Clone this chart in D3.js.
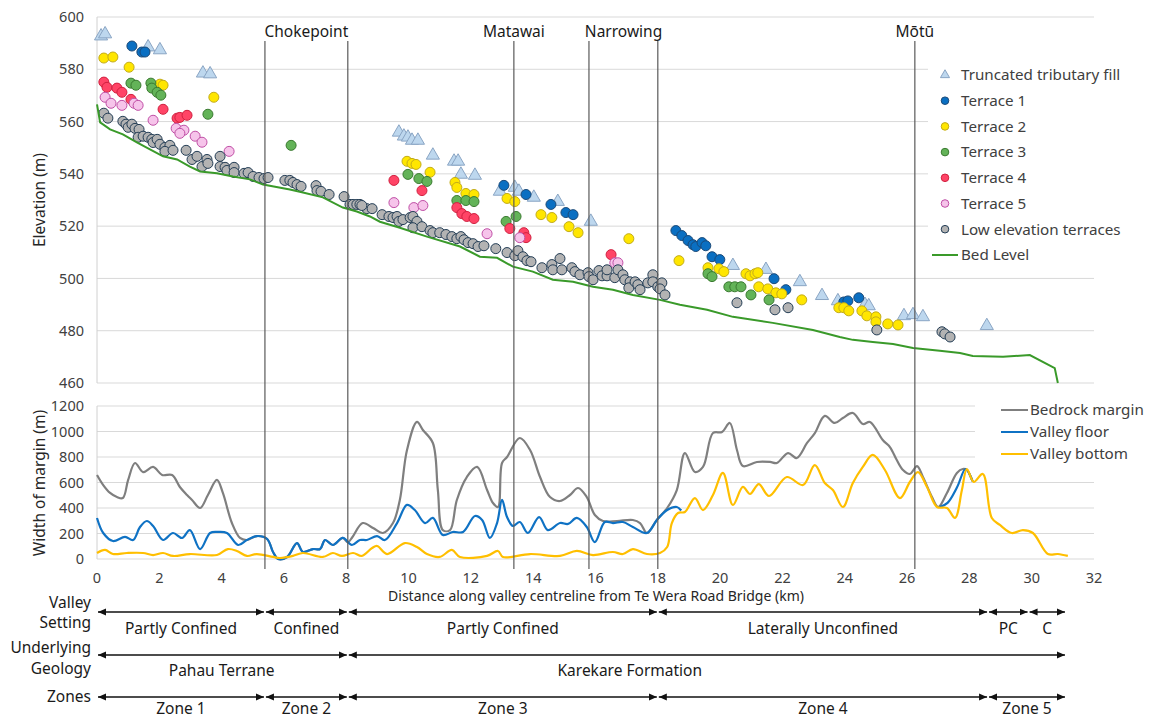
<!DOCTYPE html>
<html>
<head>
<meta charset="utf-8">
<style>
	body { margin: 0; background: #fff; }
	svg { font-family: "Noto Sans", "Liberation Sans", sans-serif; }
	.grid line { stroke: #d9d9d9; stroke-width: 1; }
	.tick-label { fill: #404040; font-size: 14.5px; }
	.axis-title { fill: #262626; font-size: 14px; }
	.axis-title-y { fill: #262626; font-size: 15.5px; }
	.legend-label { fill: #404040; font-size: 15.2px; }
	.note { fill: #1a1a1a; font-size: 15.5px; }
	.site-line { stroke: #595959; stroke-width: 1.2; }
</style>
</head>
<body>
<div class="vis-valley"></div>
<script src="https://d3js.org/d3.v7.min.js"></script>
<script>

	// ---- Data (km along centreline, elevation m) ----

	let truncatedFill = [[0.13,592.3],[0.26,593.1],[1.64,588.1],[2.02,587.0],[3.40,578.1],[3.63,577.8],
		[9.69,555.5],[9.85,554.0],[9.98,553.6],[10.11,552.4],[10.30,552.4],[10.78,546.7],[11.46,544.4],
		[11.59,544.4],[11.68,539.4],[12.13,539.0],[12.93,532.9],[13.41,534.4],[13.54,532.9],[14.02,530.6],
		[14.79,529.0],[15.85,521.4],[20.41,504.5],[21.47,503.0],[22.56,498.3],[23.27,493.0],[23.78,491.0],
		[24.65,489.6],[24.77,489.1],[25.90,485.3],[26.19,485.7],[26.51,484.9],[28.56,481.5]];

	let terrace1 = [[1.12,588.9],[1.44,586.6],[1.54,586.6],[13.06,535.6],[13.77,532.1],[14.57,528.3],
		[15.05,525.2],[15.28,524.4],[18.58,518.3],[18.77,516.4],[18.97,514.5],[19.13,512.9],[19.22,512.2],
		[19.42,513.7],[19.54,512.5],[19.74,508.3],[19.99,507.2],[21.73,499.9],[22.11,495.7],[23.97,491.0],
		[24.10,491.4],[24.45,492.6]];

	let terrace2 = [[0.22,584.3],[0.51,584.7],[1.03,580.8],[2.02,574.3],[2.12,573.9],[3.75,569.3],
		[9.95,544.8],[10.11,544.0],[10.24,543.6],[10.69,540.6],[11.49,536.7],[11.55,534.8],[11.84,532.5],
		[12.10,532.1],[13.16,530.6],[13.41,529.4],[14.25,524.4],[14.60,523.3],[15.15,519.8],[15.44,517.5],
		[17.07,515.2],[18.68,506.8],[19.61,504.1],[19.96,503.7],[20.12,502.6],[20.83,501.8],[20.96,501.0],
		[21.12,501.8],[21.21,502.2],[21.24,496.8],[21.53,496.0],[21.79,494.5],[21.98,494.1],[22.62,491.8],
		[23.81,488.8],[23.97,488.8],[24.13,487.6],[24.55,487.6],[24.71,485.7],[25.0,485.3],[25.0,483.4],
		[25.38,482.6],[25.71,482.2]];

	let terrace3 = [[1.09,574.7],[1.25,573.9],[1.73,574.7],[1.76,572.8],[1.93,571.2],[2.05,570.1],
		[3.56,562.8],[6.23,550.9],[9.98,539.8],[10.33,538.2],[10.59,537.1],[11.55,529.8],[11.84,529.8],
		[12.10,529.4],[13.13,521.8],[13.45,523.7],[19.61,501.8],[19.74,500.7],[20.28,496.8],[20.47,496.8],
		[20.67,496.8],[20.99,493.7],[21.57,491.8]];

	let terrace4 = [[0.22,575.1],[0.32,573.1],[0.64,572.8],[0.80,571.2],[1.09,568.5],[2.12,564.7],
		[2.57,561.3],[2.66,561.6],[2.89,562.4],[9.53,537.5],[10.43,533.6],[11.55,527.1],[11.71,524.8],
		[11.87,523.7],[12.10,522.9],[13.25,519.1],[13.70,517.5],[13.77,515.6],[16.50,509.1]];

	let terrace5 = [[0.26,569.3],[0.45,567.0],[0.80,566.2],[1.19,567.0],[1.32,566.2],[1.80,560.5],
		[2.54,557.4],[2.79,556.7],[2.66,555.5],[3.15,554.4],[3.37,552.1],[4.24,548.6],[9.53,529.0],
		[10.17,527.1],[10.46,527.9],[12.52,517.1],[13.57,515.6],[16.62,506.0],[16.72,506.0]];

	let lowTerraces = [[0.22,563.2],[0.35,561.3],[0.83,560.1],[0.93,559.0],[1.0,557.8],[1.12,559.0],
		[1.22,557.4],[1.35,557.0],[1.32,554.0],[1.48,554.4],[1.64,554.0],[1.76,553.2],[1.80,552.0],
		[1.93,553.2],[2.02,551.3],[2.18,550.1],[2.34,550.9],[2.18,548.6],[2.44,549.0],[2.86,549.0],
		[3.05,545.5],[3.21,546.7],[3.37,542.8],[3.53,545.5],[3.56,544.0],[3.95,546.7],[3.95,542.8],
		[4.11,542.5],[4.17,541.3],[4.40,542.5],[4.40,540.5],[4.72,540.2],[4.85,540.5],[5.01,539.0],
		[5.20,538.6],[5.36,538.2],[5.49,538.6],[6.03,537.5],[6.19,537.5],[6.29,536.7],[6.42,535.9],
		[6.55,535.2],[7.03,535.5],[7.06,533.6],[7.19,533.3],[7.45,532.1],[7.93,531.3],[8.12,528.3],
		[8.22,528.3],[8.34,528.3],[8.44,528.3],[8.66,526.7],[8.50,527.9],[8.83,526.7],[9.15,524.4],
		[9.37,523.7],[9.50,523.3],[9.63,523.7],[9.69,521.8],[9.82,522.5],[10.05,523.3],[10.14,523.7],
		[10.27,521.8],[10.14,519.4],[10.43,519.8],[10.69,518.3],[10.78,517.5],[11.0,517.5],[11.2,516.8],
		[11.39,516.0],[11.55,515.2],[11.68,516.0],[11.78,514.8],[11.91,513.7],[12.07,513.3],[12.23,512.2],
		[12.42,512.5],[12.80,511.4],[13.16,509.9],[13.41,508.7],[13.51,510.6],[13.67,508.3],[13.80,506.8],
		[13.93,506.4],[14.28,504.1],[14.60,505.3],[14.63,503.3],[14.86,507.6],[14.92,503.3],[15.24,504.1],
		[15.34,502.6],[15.50,501.4],[15.76,502.2],[15.79,500.7],[15.92,499.5],[16.11,503.0],[16.21,501.0],
		[16.37,501.0],[16.37,503.3],[16.62,500.3],[16.72,503.3],[16.88,501.4],[16.94,499.5],[17.11,498.7],
		[17.07,496.4],[17.27,498.7],[17.36,497.6],[17.43,495.7],[17.68,498.3],[17.84,501.4],[17.84,498.7],
		[18.0,496.8],[18.13,498.3],[18.07,496.0],[18.23,493.7],[20.54,490.7],[21.76,488.0],[22.18,488.8],
		[25.03,480.3],[27.12,479.6],[27.21,478.8],[27.38,477.6]];

	let bedLevel = [[0,566.6],[0.1,559.7],[0.42,557.0],[0.83,555.1],[1.28,552.0],[1.70,549.4],[2.12,546.7],
		[2.57,545.5],[2.98,542.8],[3.31,540.9],[3.85,540.2],[4.36,539.0],[4.91,537.9],[5.33,535.9],
		[6.19,534.0],[6.61,532.9],[7.25,531.0],[7.89,527.1],[8.34,525.6],[8.76,523.7],[9.08,521.7],
		[9.72,519.4],[10.59,516.0],[11.65,512.2],[12.29,508.3],[12.84,507.9],[13.35,504.5],[13.99,502.6],
		[14.63,499.5],[15.28,498.7],[15.92,496.8],[16.56,495.7],[17.20,493.7],[18.07,491.8],[18.71,489.9],
		[19.58,488.0],[20.41,485.3],[21.69,483.0],[22.98,480.3],[23.84,477.6],[24.26,476.5],[24.90,475.7],
		[25.55,474.9],[26.19,473.4],[27.05,472.3],[27.70,471.5],[28.11,470.3],[29.08,470.0],[29.94,470.7],
		[30.74,465.7],[30.84,460]];

	// ---- Data (km, width of margin m) ----

	let bedrockMargin = [[0,659],[0.2,580],[0.42,518],[0.64,486],[0.83,478],[1.0,620],[1.22,753],[1.48,682],
		[1.80,722],[2.09,659],[2.41,659],[2.66,565],[2.89,502],[3.05,463],[3.31,400],[3.56,502],[3.85,620],
		[4.04,518],[4.33,282],[4.59,165],[4.81,149],[5.13,180],[5.46,157],[5.65,55],[5.81,0],[6.1,16],
		[6.42,125],[6.61,55],[6.93,78],[7.16,78],[7.32,149],[7.57,110],[7.89,165],[8.05,130],[8.2,173],
		[8.53,282],[8.86,243],[9.18,204],[9.5,282],[9.72,463],[9.95,855],[10.27,1075],[10.46,1012],
		[10.78,910],[10.94,541],[11.1,227],[11.33,227],[11.55,463],[11.87,643],[12.2,722],[12.52,541],
		[12.71,439],[12.87,408],[13.0,753],[13.16,800],[13.57,949],[13.9,855],[14.22,643],[14.54,486],
		[14.86,455],[15.18,502],[15.44,557],[15.72,486],[15.98,345],[16.24,298],[16.69,298],[17.2,306],
		[17.43,282],[17.65,204],[17.97,306],[18.3,400],[18.61,541],[18.87,831],[19.19,682],[19.45,722],
		[19.77,988],[20.06,996],[20.31,1067],[20.54,855],[20.73,729],[21.18,761],[21.6,761],[21.82,753],
		[22.18,831],[22.46,792],[22.79,910],[23.04,988],[23.36,1122],[23.68,1067],[23.94,1106],[24.26,1145],
		[24.58,1059],[24.81,1075],[25.22,933],[25.45,878],[25.67,776],[25.87,698],[26.09,667],[26.32,729],
		[26.51,643],[26.8,486],[27.0,408],[27.28,518],[27.6,675],[27.79,706],[27.92,698],[28.1,610]];

	let valleyFloorA = [[0,322],[0.2,204],[0.51,141],[0.9,173],[1.16,149],[1.38,251],[1.6,298],[1.80,259],
		[2.12,149],[2.44,204],[2.73,165],[2.98,227],[3.31,78],[3.63,204],[3.88,212],[4.17,204],[4.53,110],
		[4.81,149],[5.13,180],[5.46,157],[5.65,55],[5.81,0],[6.1,16],[6.42,125],[6.61,55],[6.93,78],
		[7.16,78],[7.32,149],[7.57,110],[7.89,165],[8.18,110],[8.44,149],[8.66,149],[8.99,180],[9.24,149],
		[9.63,282],[9.95,424],[10.2,384],[10.53,282],[10.78,322],[11.1,188],[11.42,212],[11.75,212],
		[12.13,337],[12.36,306],[12.61,165],[12.84,282],[13.0,463],[13.16,329],[13.35,259],[13.57,290],
		[13.83,204],[14.19,329],[14.47,227],[14.86,282],[15.12,275],[15.4,322],[15.72,251],[15.98,133],
		[16.3,290],[16.56,282],[16.88,290],[17.2,251],[17.65,204],[17.97,306],[18.3,384],[18.61,408],
		[18.75,380]];
	let valleyFloorB = [[27.05,408],[27.3,440],[27.6,560],[27.88,706],[28.1,610]];

	let valleyBottom = [[0,47],[0.26,71],[0.51,39],[0.96,47],[1.48,47],[1.8,31],[2.12,47],[2.44,24],
		[2.98,39],[3.85,31],[4.2,78],[4.49,63],[4.81,24],[5.13,39],[5.65,16],[5.87,8],[6.29,24],[6.61,47],
		[7.25,16],[7.57,47],[7.86,24],[8.22,47],[8.5,24],[8.83,86],[8.99,102],[9.31,39],[9.88,125],
		[10.27,94],[10.59,39],[11.0,16],[11.39,71],[11.65,16],[12.52,24],[12.87,63],[13.03,16],[13.9,39],
		[14.86,24],[15.4,63],[15.92,31],[16.56,55],[16.88,39],[17.2,78],[17.65,39],[18.07,47],[18.3,94],
		[18.45,282],[18.65,361],[18.87,369],[19.19,478],[19.45,384],[19.77,502],[20.09,675],[20.41,424],
		[20.73,565],[20.96,510],[21.24,588],[21.57,494],[22.14,643],[22.66,580],[23.04,737],[23.36,596],
		[23.62,541],[23.94,408],[24.26,596],[24.58,722],[24.9,816],[25.29,698],[25.77,478],[26.09,604],
		[26.35,682],[26.64,565],[26.96,408],[27.28,400],[27.54,322],[27.76,541],[27.92,706],[28.14,604],
		[28.43,667],[28.72,322],[28.98,267],[29.36,204],[29.72,227],[30.04,204],[30.52,39],[30.84,39],
		[31.16,24]];

	// Named sites along the valley
	let siteKm = [5.39, 8.05, 13.38, 15.79, 18.0, 26.25];
	let siteNames = ["Chokepoint", "Matawai", "Narrowing", "Mōtū"];
	let siteNameKm = [6.72, 13.38, 16.9, 26.25];

	// Annotation rows below the chart
	let settingBounds = [0, 5.39, 8.05, 18.0, 28.6, 29.9, 31.1];
	let settingNames = ["Partly Confined", "Confined", "Partly Confined", "Laterally Unconfined", "PC", "C"];
	let geologyBounds = [0, 8.05, 31.1];
	let geologyNames = ["Pahau Terrane", "Karekare Formation"];
	let geologyNameKm = [4.0, 17.1];
	let zoneBounds = [0, 5.39, 8.05, 18.0, 28.6, 31.1];
	let zoneNames = ["Zone 1", "Zone 2", "Zone 3", "Zone 4", "Zone 5"];

	let elevTicks = d3.range(460, 601, 20);
	let widthTicks = d3.range(0, 1201, 200);
	let kmTicks = d3.range(0, 33, 2);

	// ---- Setup ----

	let W = 1151, H = 718;
	let svg = d3.select(".vis-valley").append("svg")
		.attr("width", W).attr("height", H);

	let x = d3.scaleLinear().domain([0, 32]).range([97, 1094]);
	let yTop = d3.scaleLinear().domain([460, 600]).range([383, 17]);
	let yBot = d3.scaleLinear().domain([0, 1200]).range([559, 406]);

	// GRIDLINES
	svg.append("g").attr("class", "grid").selectAll("line")
		.data(elevTicks).enter().append("line")
		.attr("x1", x(0)).attr("x2", x(32))
		.attr("y1", d => yTop(d)).attr("y2", d => yTop(d));
	svg.append("g").attr("class", "grid").selectAll("line")
		.data(widthTicks).enter().append("line")
		.attr("x1", x(0)).attr("x2", x(32))
		.attr("y1", d => yBot(d)).attr("y2", d => yBot(d));
	svg.append("line").attr("x1", x(0)).attr("x2", x(0))
		.attr("y1", yTop(600)).attr("y2", yTop(460)).style("stroke", "#d0d0d0");
	svg.append("line").attr("x1", x(0)).attr("x2", x(0))
		.attr("y1", yBot(1200)).attr("y2", yBot(0)).style("stroke", "#d0d0d0");

	// TICK LABELS
	svg.append("g").selectAll("text").data(elevTicks).enter().append("text")
		.attr("class", "tick-label").attr("x", 84).attr("y", d => yTop(d))
		.attr("dy", "0.35em").style("text-anchor", "end").text(d => d);
	svg.append("g").selectAll("text").data(widthTicks).enter().append("text")
		.attr("class", "tick-label").attr("x", 84).attr("y", d => yBot(d))
		.attr("dy", "0.35em").style("text-anchor", "end").text(d => d);
	svg.append("g").selectAll("text").data(kmTicks).enter().append("text")
		.attr("class", "tick-label").attr("x", d => x(d)).attr("y", 578)
		.attr("dy", "0.35em").style("text-anchor", "middle").text(d => d);

	// AXIS TITLES
	svg.append("text").attr("class", "axis-title-y")
		.attr("transform", "translate(40,200) rotate(-90)")
		.attr("dy", "0.35em").style("text-anchor", "middle").text("Elevation (m)");
	svg.append("text").attr("class", "axis-title-y")
		.attr("transform", "translate(40,483) rotate(-90)")
		.attr("dy", "0.35em").style("text-anchor", "middle").text("Width of margin (m)");
	svg.append("text").attr("class", "axis-title")
		.attr("x", 596).attr("y", 596).attr("dy", "0.35em")
		.style("text-anchor", "middle")
		.text("Distance along valley centreline from Te Wera Road Bridge (km)");

	// ---- Width panel ----

	let smooth = d3.line()
		.x(d => x(d[0])).y(d => yBot(d[1]))
		.curve(d3.curveCatmullRom.alpha(0.5));

	svg.append("path").datum(bedrockMargin).attr("d", smooth)
		.style("fill", "none").style("stroke", "#7f7f7f").style("stroke-width", 2.2);
	[valleyFloorA, valleyFloorB].forEach(seg => {
		svg.append("path").datum(seg).attr("d", smooth)
			.style("fill", "none").style("stroke", "#0f72c4").style("stroke-width", 2.2);
	});
	svg.append("path").datum(valleyBottom).attr("d", smooth)
		.style("fill", "none").style("stroke", "#ffbf00").style("stroke-width", 2.2);

	// ---- Elevation panel ----

	let series = [
		{name: "Truncated tributary fill", data: truncatedFill, shape: "tri", fill: "#bdd7ee", stroke: "#8aa5c4"},
		{name: "Terrace 1", data: terrace1, fill: "#0a6fc2", stroke: "#1c4a78"},
		{name: "Terrace 2", data: terrace2, fill: "#ffe600", stroke: "#c2ab1a"},
		{name: "Terrace 3", data: terrace3, fill: "#63b358", stroke: "#3a7a30"},
		{name: "Terrace 4", data: terrace4, fill: "#ff4466", stroke: "#d0203f"},
		{name: "Terrace 5", data: terrace5, fill: "#f6c4ea", stroke: "#c04fa6"},
		{name: "Low elevation terraces", data: lowTerraces, fill: "#b3b3b3", stroke: "#233d55"}
	];
	let triangle = d3.symbol().type(d3.symbolTriangle).size(75);

	series.forEach(s => {
		let g = svg.append("g");
		if (s.shape == "tri") {
			g.selectAll("path").data(s.data).enter().append("path")
				.attr("d", triangle)
				.attr("transform", d => "translate(" + x(d[0]) + "," + (yTop(d[1]) - 1) + ")")
				.style("fill", s.fill).style("stroke", s.stroke).style("stroke-width", 1);
		} else {
			g.selectAll("circle").data(s.data).enter().append("circle")
				.attr("cx", d => x(d[0])).attr("cy", d => yTop(d[1])).attr("r", 5)
				.style("fill", s.fill).style("stroke", s.stroke).style("stroke-width", 1);
		}
	});

	let valueline = d3.line().x(d => x(d[0])).y(d => yTop(d[1]));
	svg.append("path").datum(bedLevel).attr("d", valueline)
		.style("fill", "none").style("stroke", "#3a9a2a").style("stroke-width", 2);

	// SITE LINES
	svg.append("g").selectAll("line").data(siteKm).enter().append("line")
		.attr("class", "site-line")
		.attr("x1", d => x(d)).attr("x2", d => x(d))
		.attr("y1", 41).attr("y2", 569);
	svg.append("g").selectAll("text").data(siteNames).enter().append("text")
		.attr("class", "note").attr("x", (d, i) => x(siteNameKm[i])).attr("y", 32)
		.attr("dy", "0.35em").style("text-anchor", "middle").text(d => d);

	// LEGENDS
	svg.append("rect").attr("x", 928).attr("y", 62).attr("width", 222).attr("height", 206)
		.style("fill", "#fff");
	let legTop = svg.append("g");
	series.forEach((s, i) => {
		let ly = 75 + i * 25.7;
		if (s.shape == "tri") {
			legTop.append("path").attr("d", d3.symbol().type(d3.symbolTriangle).size(36))
				.attr("transform", "translate(945," + ly + ")")
				.style("fill", s.fill).style("stroke", s.stroke);
		} else {
			legTop.append("circle").attr("cx", 945).attr("cy", ly).attr("r", 3.8)
				.style("fill", s.fill).style("stroke", s.stroke);
		}
		legTop.append("text").attr("class", "legend-label").attr("x", 961).attr("y", ly)
			.attr("dy", "0.35em").text(s.name);
	});
	legTop.append("line").attr("x1", 932).attr("x2", 958).attr("y1", 255).attr("y2", 255)
		.style("stroke", "#3a9a2a").style("stroke-width", 2);
	legTop.append("text").attr("class", "legend-label").attr("x", 961).attr("y", 255)
		.attr("dy", "0.35em").text("Bed Level");

	svg.append("rect").attr("x", 975).attr("y", 398).attr("width", 176).attr("height", 66)
		.style("fill", "#fff");
	let botLegend = [["Bedrock margin", "#7f7f7f"], ["Valley floor", "#0f72c4"], ["Valley bottom", "#ffbf00"]];
	botLegend.forEach((d, i) => {
		let ly = 410 + i * 22;
		svg.append("line").attr("x1", 1001).attr("x2", 1028).attr("y1", ly).attr("y2", ly)
			.style("stroke", d[1]).style("stroke-width", 2);
		svg.append("text").attr("class", "legend-label").attr("x", 1030).attr("y", ly)
			.attr("dy", "0.35em").text(d[0]);
	});

	// ---- Annotation rows ----

	let defs = svg.append("defs");
	defs.append("marker").attr("id", "head")
		.attr("viewBox", "0 0 8 8").attr("refX", 8).attr("refY", 4)
		.attr("markerWidth", 8).attr("markerHeight", 8)
		.attr("markerUnits", "userSpaceOnUse")
		.attr("orient", "auto-start-reverse")
		.append("path").attr("d", "M0,0.5 L8,4 L0,7.5 Z").style("fill", "#111");

	function arrowRow(bounds, y) {
		let segs = d3.range(bounds.length - 1).map(i => [bounds[i], bounds[i + 1]]);
		svg.append("g").selectAll("line").data(segs).enter().append("line")
			.attr("x1", d => x(d[0]) + 1).attr("x2", d => x(d[1]) - 1)
			.attr("y1", y).attr("y2", y)
			.style("stroke", "#111").style("stroke-width", 1.4)
			.attr("marker-start", "url(#head)").attr("marker-end", "url(#head)");
	}
	function rowText(names, kms, y) {
		svg.append("g").selectAll("text").data(names).enter().append("text")
			.attr("class", "note").attr("x", (d, i) => x(kms[i])).attr("y", y)
			.attr("dy", "0.35em").style("text-anchor", "middle").text(d => d);
	}
	function mids(bounds) {
		return d3.range(bounds.length - 1).map(i => (bounds[i] + bounds[i + 1]) / 2);
	}

	arrowRow(settingBounds, 612);
	rowText(settingNames, mids(settingBounds), 629);
	arrowRow(geologyBounds, 655);
	rowText(geologyNames, geologyNameKm, 671);
	arrowRow(zoneBounds, 697);
	rowText(zoneNames, mids(zoneBounds), 709);

	let rowLabels = [["Valley", 603], ["Setting", 623], ["Underlying", 648], ["Geology", 669], ["Zones", 697]];
	svg.append("g").selectAll("text").data(rowLabels).enter().append("text")
		.attr("class", "note").attr("x", 91).attr("y", d => d[1])
		.attr("dy", "0.35em").style("text-anchor", "end").text(d => d[0]);

</script>
</body>
</html>
